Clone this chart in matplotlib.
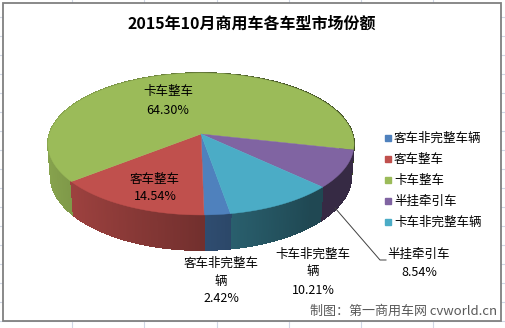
import numpy as np
import matplotlib
matplotlib.use("Agg")
import matplotlib.pyplot as plt
from matplotlib.collections import PolyCollection
from matplotlib.colors import to_rgb
from matplotlib.lines import Line2D
from matplotlib.patches import Polygon, Rectangle

plt.rcParams["font.family"] = ["Noto Sans CJK SC", "DejaVu Sans"]

title = "2015年10月商用车各车型市场份额"
categories = ["客车非完整车辆", "客车整车", "卡车整车", "半挂牵引车", "卡车非完整车辆"]
shares = [2.42, 14.54, 64.30, 8.54, 10.21]
colors = ["#4F81BD", "#C0504D", "#9BBB59", "#8064A2", "#4BACC6"]
credit = "制图：第一商用车网 cvworld.cn"

# pie geometry, in pixels of the 505x328 canvas
CX, CY = 201.0, 134.0
FOCAL, DIST = 954.5, 6.3
SIN_T, COS_T = 0.459, 0.888
DEPTH = 0.239
START = -80.3  # degrees, slices run clockwise


def project(theta, r=1.0, z=0.0):
    x = r * np.cos(theta)
    y = r * np.sin(theta)
    yc = y * SIN_T + z * COS_T
    d = DIST + y * COS_T - z * SIN_T
    return CX + FOCAL * x / d, CY - FOCAL * yc / d


def shade(color, theta):
    k = max(0.42, 0.6 + 0.28 * np.cos(theta - np.pi))
    return tuple(c * k for c in to_rgb(color))


def wrap(name, width=6):
    return name if len(name) <= width else name[:width] + "\n" + name[width:]


fig = plt.figure(figsize=(5.05, 3.28), dpi=100)
ax = fig.add_axes([0, 0, 1, 1])
ax.set_xlim(0, 505)
ax.set_ylim(328, 0)
ax.axis("off")

# spreadsheet cells behind the chart
for gx in np.arange(72.2, 505, 72.2):
    ax.plot([gx, gx], [0, 328], color="#d0d7e5", lw=0.8, zorder=0)
for gy in np.arange(16.7, 328, 19.0):
    ax.plot([0, 505], [gy, gy], color="#d0d7e5", lw=0.8, zorder=0)
ax.add_patch(Rectangle((3, 3), 498, 318, facecolor="white",
                       edgecolor="#808080", lw=1.3, zorder=1))

ax.text(252, 24, title, ha="center", va="center", fontsize=11.5,
        fontweight="bold", zorder=5)

edges = np.radians(START - np.concatenate([[0], np.cumsum(shares)]) * 3.6)

# curved wall, far pieces first
quads, quad_colors, keys = [], [], []
for i, color in enumerate(colors):
    a0, a1 = edges[i], edges[i + 1]
    n = max(2, int(2 * np.degrees(a0 - a1)))
    ts = np.linspace(a0, a1, n + 1)
    for t1, t2 in zip(ts[:-1], ts[1:]):
        p = [project(t1), project(t2), project(t2, z=-DEPTH), project(t1, z=-DEPTH)]
        tm = 0.5 * (t1 + t2)
        quads.append(p)
        quad_colors.append(shade(color, tm))
        keys.append(np.sin(tm))
order = np.argsort(keys)[::-1]
ax.add_collection(PolyCollection([quads[j] for j in order],
                                 facecolors=[quad_colors[j] for j in order],
                                 edgecolors=[quad_colors[j] for j in order],
                                 linewidths=0.6, antialiased=False, zorder=2))

# top faces
for i, color in enumerate(colors):
    ts = np.linspace(edges[i], edges[i + 1], 200)
    xs, ys = project(ts)
    pts = np.column_stack([np.r_[CX, xs], np.r_[CY, ys]])
    ax.add_patch(Polygon(pts, closed=True, facecolor=color, edgecolor=color,
                         lw=0.3, zorder=3))

# data labels
label_pos = [(221, 263), (155, 179), (168, 92), (419, 254), (313, 254)]
for name, share, (lx, ly) in zip(categories, shares, label_pos):
    lines = wrap(name).split("\n") + [f"{share:.2f}%"]
    for k, line in enumerate(lines):
        ax.text(lx, ly + k * 18, line, ha="center", va="center",
                fontsize=9, zorder=5)

# leader for the purple slice
mid = 0.5 * (edges[3] + edges[4])
sx, sy = project(mid - 0.1, z=-DEPTH * 0.95)
ax.plot([sx, 380, 386], [sy, 260, 260], color="#404040", lw=0.7, zorder=4)

handles = [Line2D([], [], ls="", marker="s", markersize=4.5, color=c) for c in colors]
ax.legend(handles, categories, loc="upper left",
          bbox_to_anchor=(384 / 505, 1 - 132 / 328), frameon=False,
          fontsize=9, borderpad=0, labelspacing=0.64, handlelength=0.6,
          handletextpad=0.2, borderaxespad=0)

ax.text(497, 311, credit, ha="right", va="center", fontsize=9.4,
        color="#595959", zorder=5)

fig.savefig("out.png", dpi=100)
